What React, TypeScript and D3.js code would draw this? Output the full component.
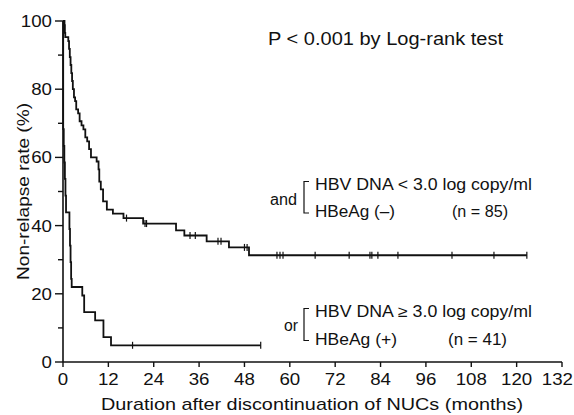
import React from "react";
import * as d3 from "d3";

// ---- data ----
const xTicks = [0, 12, 24, 36, 48, 60, 72, 84, 96, 108, 120, 132];
const yMajorTicks = [0, 20, 40, 60, 80, 100];
const yMinorTicks = [10, 30, 50, 70, 90];

// Group 1: HBV DNA < 3.0 and HBeAg (-), n = 85
const upperTimes = [0, 0.4, 0.5, 0.6, 1.4, 1.6, 1.8, 2.0, 2.2, 2.4, 2.6, 2.9, 3.2, 3.5, 4.0, 4.4, 4.9, 5.4, 5.9, 6.4, 6.9, 7.4, 8.9, 9.4, 9.6, 10.0, 10.6, 11.6, 13.2, 16.0, 21.2, 29.9, 32.1, 38.0, 43.9, 49.2];
const upperSurv = [100, 98.8, 96.5, 95.3, 94.1, 91.8, 89.4, 87.1, 84.7, 82.4, 80.0, 77.6, 76.5, 74.1, 72.9, 70.6, 69.4, 68.2, 65.9, 64.7, 62.4, 60.0, 58.8, 56.5, 52.9, 50.6, 47.1, 44.7, 43.5, 42.2, 40.6, 38.6, 37.1, 35.4, 33.6, 31.3];
const upperEnd = 122.7;
const upperCensor = [16.8, 21.7, 22.1, 33.6, 35, 41, 41.8, 48, 48.7, 56.6, 57.4, 58.2, 66.7, 75.7, 81.2, 81.7, 83.3, 88.6, 102.9, 114, 122.7];

// Group 2: HBV DNA >= 3.0 or HBeAg (+), n = 41
const lowerTimes = [0, 0.05, 0.2, 0.35, 0.5, 0.65, 0.8, 1.7, 1.85, 2.0, 2.15, 2.3, 5.1, 5.6, 8.5, 10.7, 12.7];
const lowerSurv = [100, 68.3, 63.4, 58.5, 53.7, 48.8, 43.9, 39.0, 34.1, 29.3, 24.4, 22.0, 19.5, 14.6, 12.2, 7.3, 4.9];
const lowerEnd = 52.3;
const lowerCensor = [18.4, 52.3];

const W = 574;
const H = 415;
const FONT = "'Liberation Sans', Arial, Helvetica, sans-serif";
const SX = 1.1;

const x = d3.scaleLinear().domain([0, 132]).range([63, 562]);
const y = d3.scaleLinear().domain([0, 100]).range([362, 21]);

function stepPath(times: number[], surv: number[], end: number) {
  const pts: [number, number][] = times.map((t, i) => [t, surv[i]]);
  pts.push([end, surv[surv.length - 1]]);
  const line = d3
    .line<[number, number]>()
    .x((d) => x(d[0]))
    .y((d) => y(d[1]))
    .curve(d3.curveStepAfter);
  return line(pts) || "";
}

function survAt(times: number[], surv: number[], t: number) {
  let v = surv[0];
  for (let i = 0; i < times.length; i++) if (times[i] <= t) v = surv[i];
  return v;
}

function T(props: { x: number; y: number; anchor?: string; size?: number; children: React.ReactNode }) {
  const { x: tx, y: ty, anchor = "start", size = 17, children } = props;
  return (
    <text
      transform={`translate(${tx},${ty}) scale(${SX},1)`}
      textAnchor={anchor}
      fontSize={size}
      fontFamily={FONT}
      fill="#111"
    >
      {children}
    </text>
  );
}

export default function App() {
  const upperPath = stepPath(upperTimes, upperSurv, upperEnd);
  const lowerPath = stepPath(lowerTimes, lowerSurv, lowerEnd);
  const stroke = "#111";
  const last = xTicks[xTicks.length - 1];
  return (
    <svg
      width={W}
      height={H}
      style={{ position: "absolute", left: 0, top: 0, background: "#fff" }}
    >
      <rect width={W} height={H} fill="#fff" />
      {/* axes */}
      <line x1={x(0)} x2={x(0)} y1={y(100)} y2={y(0)} stroke={stroke} strokeWidth={1.6} />
      <line x1={x(0)} x2={x(132)} y1={y(0)} y2={y(0)} stroke={stroke} strokeWidth={1.6} />
      {yMajorTicks.map((v) => (
        <g key={"ym" + v}>
          <line x1={x(0) - 8} x2={x(0)} y1={y(v)} y2={y(v)} stroke={stroke} strokeWidth={1.4} />
          <T x={52} y={y(v) + 6} anchor="end">{String(v)}</T>
        </g>
      ))}
      {yMinorTicks.map((v) => (
        <line key={"yn" + v} x1={x(0) - 5} x2={x(0)} y1={y(v)} y2={y(v)} stroke={stroke} strokeWidth={1.4} />
      ))}
      {xTicks.map((v) => (
        <g key={"x" + v}>
          <line x1={x(v)} x2={x(v)} y1={y(0)} y2={y(0) + 5} stroke={stroke} strokeWidth={1.4} />
          {v === last ? (
            <T x={573} y={385} anchor="end">{String(v)}</T>
          ) : (
            <T x={x(v)} y={385} anchor="middle">{String(v)}</T>
          )}
        </g>
      ))}
      {/* axis titles */}
      <text
        x={101}
        y={410}
        fontSize={17}
        fontFamily={FONT}
        textLength={422}
        lengthAdjust="spacingAndGlyphs"
        fill="#111"
      >
        Duration after discontinuation of NUCs (months)
      </text>
      <text
        transform={`translate(29,280) rotate(-90)`}
        fontSize={17}
        fontFamily={FONT}
        textLength={177}
        lengthAdjust="spacingAndGlyphs"
        fill="#111"
      >
        Non-relapse rate (%)
      </text>
      {/* curves */}
      <path d={upperPath} fill="none" stroke={stroke} strokeWidth={1.8} />
      <path d={lowerPath} fill="none" stroke={stroke} strokeWidth={1.8} />
      {upperCensor.map((t, i) => {
        const v = survAt(upperTimes, upperSurv, t);
        return <line key={"uc" + i} x1={x(t)} x2={x(t)} y1={y(v) - 3.5} y2={y(v) + 3.5} stroke={stroke} strokeWidth={1.2} />;
      })}
      {lowerCensor.map((t, i) => {
        const v = survAt(lowerTimes, lowerSurv, t);
        return <line key={"lc" + i} x1={x(t)} x2={x(t)} y1={y(v) - 3.5} y2={y(v) + 3.5} stroke={stroke} strokeWidth={1.2} />;
      })}
      {/* P value */}
      <text x={268} y={45} fontSize={17.5} fontFamily={FONT} textLength={235} lengthAdjust="spacingAndGlyphs" fill="#111">
        P &lt; 0.001 by Log-rank test
      </text>
      {/* upper legend */}
      <text x={270} y={205} fontSize={16} fontFamily={FONT} textLength={27} lengthAdjust="spacingAndGlyphs" fill="#111">and</text>
      <path d="M309,181.5 H304 V213 H309" fill="none" stroke={stroke} strokeWidth={1.2} />
      <text x={315} y={190} fontSize={16} fontFamily={FONT} textLength={217} lengthAdjust="spacingAndGlyphs" fill="#111">HBV DNA &lt; 3.0 log copy/ml</text>
      <text x={315} y={217} fontSize={16} fontFamily={FONT} textLength={80} lengthAdjust="spacingAndGlyphs" fill="#111">HBeAg (–)</text>
      <text x={452} y={217} fontSize={16} fontFamily={FONT} textLength={56} lengthAdjust="spacingAndGlyphs" fill="#111">(n = 85)</text>
      {/* lower legend */}
      <text x={284} y={331} fontSize={16} fontFamily={FONT} textLength={14} lengthAdjust="spacingAndGlyphs" fill="#111">or</text>
      <path d="M309,308.5 H304 V340.5 H309" fill="none" stroke={stroke} strokeWidth={1.2} />
      <text x={315} y={317} fontSize={16} fontFamily={FONT} textLength={217} lengthAdjust="spacingAndGlyphs" fill="#111">HBV DNA ≥ 3.0 log copy/ml</text>
      <text x={315} y={345} fontSize={16} fontFamily={FONT} textLength={82} lengthAdjust="spacingAndGlyphs" fill="#111">HBeAg (+)</text>
      <text x={448} y={345} fontSize={16} fontFamily={FONT} textLength={59} lengthAdjust="spacingAndGlyphs" fill="#111">(n = 41)</text>
    </svg>
  );
}
